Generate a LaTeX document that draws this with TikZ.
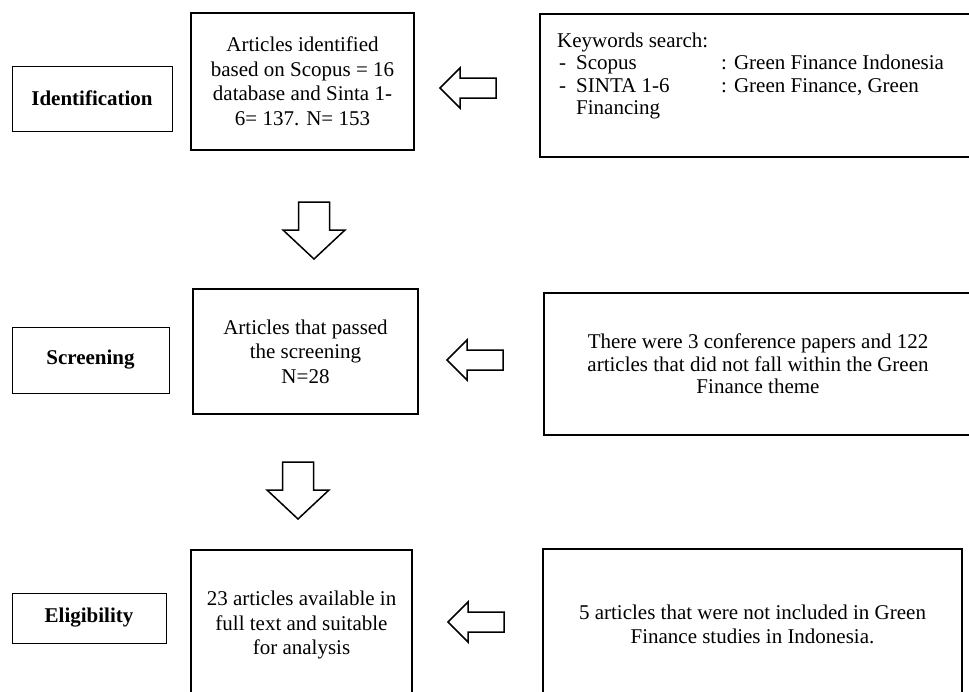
\documentclass[tikz,border=0pt]{standalone}
\usepackage{fontspec}
\setmainfont{Liberation Serif}
\usepackage{array}
\begin{document}
\begin{tikzpicture}[x=1pt,y=-1pt,
  txt/.style={font=\fontsize{21}{24.5}\selectfont, align=center},
  labelbox/.style={draw, line width=1pt, inner sep=0pt, font=\fontsize{21}{24}\selectfont\bfseries},
  mainbox/.style={draw, line width=2.4pt, inner sep=0pt, txt},
  sidebox/.style={draw, line width=2.4pt, inner sep=0pt, txt},
  arrowline/.style={draw, line width=1.5pt, fill=white, line join=miter},
  pics/leftblock/.style={code={\path[arrowline] (0,0) -- (20,-20) -- (20,-10) -- (56,-10) -- (56,10) -- (20,10) -- (20,20) -- cycle;}},
  pics/downblock/.style={code={\path[arrowline] (0,0) -- (-31,-29) -- (-15.5,-29) -- (-15.5,-57) -- (15.5,-57) -- (15.5,-29) -- (31,-29) -- cycle;}}
]
\useasboundingbox (0,0) rectangle (969,691);
\clip (0,0) rectangle (969,691);

% stage labels
\node[labelbox, minimum width=160pt, minimum height=65pt] (idl) at (92,98.5) {Identification};
\node[labelbox, minimum width=157pt, minimum height=66pt] (scl) at (90.5,360) {Screening};
\node[labelbox, minimum width=154pt, minimum height=50pt] (ell) at (89,618) {Eligibility};

% main column
\node[mainbox, minimum width=223pt, minimum height=137pt] (b1) at (302.5,81.5)
  {Articles identified\\based on Scopus = 16\\database and Sinta 1-\\6= 137. N= 153};
\node[mainbox, minimum width=225pt, minimum height=125pt] (b2) at (305.5,351.5)
  {Articles that passed\\the screening\\N=28};
\node[mainbox, minimum width=221pt, minimum height=150pt] (b3) at (301.5,625)
  {23 articles available in\\full text and suitable\\for analysis};

% side boxes
\node[sidebox, minimum width=432pt, minimum height=143pt] (kw) at (756,85.5) {};
\node[anchor=base west, inner sep=0pt, font=\fontsize{21}{22.5}\selectfont] (kwt) at (557,47)
  {\begin{tabular}[t]{@{}p{19pt}@{}p{145pt}@{}l@{}}
   \multicolumn{3}{@{}l@{}}{Keywords search:}\\
   \hspace{2pt}- & Scopus & : Green Finance Indonesia\\
   \hspace{2pt}- & SINTA 1-6 & : Green Finance, Green\\
    & Financing & \\
   \end{tabular}};
\node[sidebox, minimum width=428pt, minimum height=142pt, font=\fontsize{21}{22.5}\selectfont] (s2) at (758,364)
  {There were 3 conference papers and 122\\articles that did not fall within the Green\\Finance theme};
\node[sidebox, minimum width=419pt, minimum height=151pt] (s3) at (752.5,624.5)
  {5 articles that were not included in Green\\Finance studies in Indonesia.};

% block arrows
\pic at (440,88) {leftblock};
\pic at (447,360) {leftblock};
\pic at (448,622) {leftblock};
\pic at (314,259) {downblock};
\pic at (298,519) {downblock};
\end{tikzpicture}
\end{document}
